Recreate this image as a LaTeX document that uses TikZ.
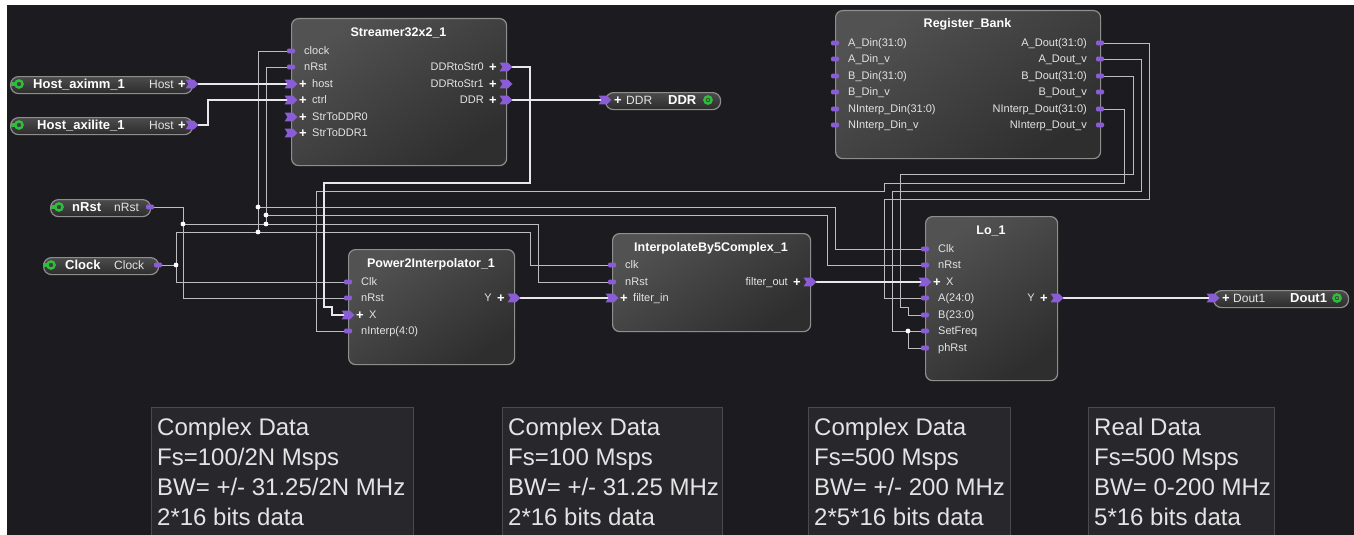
\documentclass[tikz,border=0pt]{standalone}
\usepackage{fontspec}
\setmainfont{Liberation Sans}
\usetikzlibrary{calc}
\definecolor{bgc}{HTML}{1C1C20}
\definecolor{boxtop}{HTML}{525252}
\definecolor{boxbot}{HTML}{2E2E2E}
\definecolor{pilltop}{HTML}{4C4C4C}
\definecolor{pillbot}{HTML}{2C2C2C}
\definecolor{boxline}{HTML}{8E8E8E}
\definecolor{portc}{HTML}{8A5CD6}
\definecolor{wirec}{HTML}{BDBDBD}
\definecolor{busc}{HTML}{E8E8E8}
\definecolor{txtc}{HTML}{E4E4E4}
\definecolor{keyc}{HTML}{2EBE3C}
\definecolor{notebg}{HTML}{28282C}
\definecolor{noteline}{HTML}{4A4A4E}

\tikzset{
  blockbox/.style 2 args={draw=boxline, line width=1.2pt, rounded corners=7pt,
     top color=boxtop, bottom color=boxbot, shading angle=35,
     anchor=north west, inner sep=0pt, minimum width=#1, minimum height=#2},
  pillbox/.style={draw=boxline, line width=1.2pt, rounded corners=8pt,
     top color=pilltop, bottom color=pillbot,
     anchor=north west, inner sep=0pt, minimum width=#1, minimum height=17pt},
  notebox/.style 2 args={draw=noteline, line width=0.8pt, fill=notebg,
     anchor=north west, inner sep=0pt, minimum width=#1, minimum height=#2},
  notetext/.style={font=\fontsize{24}{30}\selectfont, text=txtc, align=left,
     anchor=north west, inner sep=0pt},
  ttl/.style={font=\bfseries\fontsize{12.5}{14}\selectfont, text=white, inner sep=0pt,
     text height=9pt, text depth=0pt},
  lbl/.style={font=\fontsize{11}{12}\selectfont, text=txtc, inner sep=0pt,
     text height=7.9pt, text depth=0pt},
  plus/.style={font=\bfseries\fontsize{13}{13}\selectfont, text=white, inner sep=0pt,
     text height=9pt, text depth=0pt},
  pillb/.style={font=\bfseries\fontsize{13}{14}\selectfont, text=white, inner sep=0pt,
     text height=9.3pt, text depth=0pt},
  pilln/.style={font=\fontsize{12}{13}\selectfont, text=txtc, inner sep=0pt,
     text height=8.6pt, text depth=0pt},
  sig/.style={draw=wirec, line width=0.9pt},
  bus/.style={draw=busc, line width=1.3pt},
}

\newcommand\sigp[1]{\fill[portc,rounded corners=1.2pt] ($(#1)+(-4,-2.3)$) rectangle ($(#1)+(4,2.3)$);}
\newcommand\busp[1]{\fill[portc] ($(#1)+(-6.5,-4.4)$) -- ++(8.5,0) -- ++(4.5,4.4) -- ++(-4.5,4.4) -- ++(-8.5,0) -- ++(3,-4.4) -- cycle;}
\newcommand\inS[2]{\sigp{#1}\node[lbl,anchor=west] (#1-t) at ($(#1)+(13,0)$) {#2};}
\newcommand\inB[2]{\busp{#1}\node[plus] (#1-p) at ($(#1)+(12,0)$) {+};\node[lbl,anchor=west] (#1-t) at ($(#1)+(21,0)$) {#2};}
\newcommand\outS[2]{\sigp{#1}\node[lbl,anchor=east] (#1-t) at ($(#1)+(-13,0)$) {#2};}
\newcommand\outB[2]{\busp{#1}\node[plus] (#1-p) at ($(#1)+(-13,0)$) {+};\node[lbl,anchor=east] (#1-t) at ($(#1)+(-22,0)$) {#2};}
\newcommand\keyL[1]{\fill[keyc] ($(#1)+(-8,-1.6)$) rectangle ($(#1)+(-2,1.6)$);\draw[keyc,line width=2.4pt] (#1) circle (3.6pt);}
\newcommand\keyR[1]{\draw[keyc,line width=2.4pt] (#1) circle (3.6pt);\fill[keyc] (#1) circle (1.3pt);}
\newcommand\jdot[1]{\fill[white] (#1) circle (2.4pt);}

\begin{document}
\begin{tikzpicture}[x=1pt,y=-1pt]
\useasboundingbox (0,0) rectangle (1354,535);
\fill[white] (0,0) rectangle (1354,535);
\fill[bgc] (7,5) rectangle (1354,535);

% ---------- blocks ----------
\node[blockbox={215pt}{147pt}] (strm) at (291,18) {};
\node[ttl] (strm-title) at (398.5,32) {Streamer32x2\_1};
\node[blockbox={265pt}{148pt}] (rb) at (835,10) {};
\node[ttl] (rb-title) at (967.5,23) {Register\_Bank};
\node[blockbox={166pt}{115pt}] (p2i) at (348,249) {};
\node[ttl] (p2i-title) at (431,263) {Power2Interpolator\_1};
\node[blockbox={198pt}{98pt}] (ib5) at (612,233) {};
\node[ttl] (ib5-title) at (711,247) {InterpolateBy5Complex\_1};
\node[blockbox={132pt}{164pt}] (lo) at (925,216) {};
\node[ttl] (lo-title) at (991,230) {Lo\_1};

% ---------- pills ----------
\node[pillbox=182pt] (hm) at (10,76) {};
\node[pillbox=182pt] (hl) at (10,117) {};
\node[pillbox=100pt] (nr) at (50,199) {};
\node[pillbox=115pt] (ck) at (43,257) {};
\node[pillbox=115pt] (ddr) at (605,92) {};
\node[pillbox=135pt] (do) at (1213,290) {};

\coordinate (hm-k) at (19,84); \keyL{hm-k}
\node[pillb,anchor=west] (hm-name) at (33,84) {Host\_aximm\_1};
\node[pilln,anchor=east] (hm-lab) at (174,84) {Host};
\node[plus] (hm-plus) at (182,84) {+};
\coordinate (hl-k) at (19,125); \keyL{hl-k}
\node[pillb,anchor=west] (hl-name) at (37,125) {Host\_axilite\_1};
\node[pilln,anchor=east] (hl-lab) at (174,125) {Host};
\node[plus] (hl-plus) at (182,125) {+};
\coordinate (nr-k) at (59,207); \keyL{nr-k}
\node[pillb,anchor=west] (nr-name) at (72,207) {nRst};
\node[pilln,anchor=west] (nr-lab) at (114,207) {nRst};
\coordinate (ck-k) at (51,265); \keyL{ck-k}
\node[pillb,anchor=west] (ck-name) at (65,265) {Clock};
\node[pilln,anchor=west] (ck-lab) at (114,265) {Clock};
\node[plus] (ddr-plus) at (618,100) {+};
\node[pilln,anchor=west] (ddr-lab) at (626,100) {DDR};
\node[pillb,anchor=west] (ddr-name) at (668,100) {DDR};
\coordinate (ddr-k) at (708,100); \keyR{ddr-k}
\node[plus] (do-plus) at (1226,298) {+};
\node[pilln,anchor=west] (do-lab) at (1233,298) {Dout1};
\node[pillb,anchor=west] (do-name) at (1290,298) {Dout1};
\coordinate (do-k) at (1337,298); \keyR{do-k}

% ---------- notes ----------
\node[notebox={262pt}{140pt}] (note1) at (151,407) {};
\node[notetext] (note1-t) at (157,418) {Complex Data\\Fs=100/2N Msps\\BW= +/- 31.25/2N MHz\\2*16 bits data};
\node[notebox={220pt}{140pt}] (note2) at (502,407) {};
\node[notetext] (note2-t) at (508,418) {Complex Data\\Fs=100 Msps\\BW= +/- 31.25 MHz\\2*16 bits data};
\node[notebox={202pt}{140pt}] (note3) at (808,407) {};
\node[notetext] (note3-t) at (814,418) {Complex Data\\Fs=500 Msps\\BW= +/- 200 MHz\\2*5*16 bits data};
\node[notebox={186pt}{140pt}] (note4) at (1088,407) {};
\node[notetext] (note4-t) at (1094,418) {Real Data\\Fs=500 Msps\\BW= 0-200 MHz\\5*16 bits data};

% ---------- port coordinates ----------
\coordinate (s-clock) at (291,51);  \coordinate (s-nrst) at (291,67);
\coordinate (s-host) at (291,84);   \coordinate (s-ctrl) at (291,100);
\coordinate (s-sd0) at (291,117);   \coordinate (s-sd1) at (291,133);
\coordinate (s-ds0) at (506,67);    \coordinate (s-ds1) at (506,84);
\coordinate (s-ddr) at (506,100);
\coordinate (rb-ad) at (835,43);  \coordinate (rb-adv) at (835,59);
\coordinate (rb-bd) at (835,76);  \coordinate (rb-bdv) at (835,92);
\coordinate (rb-nd) at (835,109); \coordinate (rb-ndv) at (835,125);
\coordinate (rb-aq) at (1100,43);  \coordinate (rb-aqv) at (1100,59);
\coordinate (rb-bq) at (1100,76);  \coordinate (rb-bqv) at (1100,92);
\coordinate (rb-nq) at (1100,109); \coordinate (rb-nqv) at (1100,125);
\coordinate (p-clk) at (348,282); \coordinate (p-nrst) at (348,298);
\coordinate (p-x) at (348,315);   \coordinate (p-ni) at (348,331);
\coordinate (p-y) at (514,298);
\coordinate (i-clk) at (612,265); \coordinate (i-nrst) at (612,282);
\coordinate (i-in) at (612,298);  \coordinate (i-out) at (810,282);
\coordinate (l-clk) at (925,249); \coordinate (l-nrst) at (925,265);
\coordinate (l-x) at (925,282);   \coordinate (l-a) at (925,298);
\coordinate (l-b) at (925,315);   \coordinate (l-sf) at (925,331);
\coordinate (l-ph) at (925,348);  \coordinate (l-y) at (1057,298);
\coordinate (hm-p) at (192,84);   \coordinate (hl-p) at (192,125);
\coordinate (nr-p) at (150,207);  \coordinate (ck-p) at (158,265);
\coordinate (ddr-p) at (605,100); \coordinate (do-p) at (1213,298);
\coordinate (j1) at (183,224); \coordinate (j2) at (266,224);
\coordinate (j3) at (266,215); \coordinate (j4) at (176,265);
\coordinate (j5) at (258,232); \coordinate (j6) at (258,207);
\coordinate (j7) at (908,331);

% ---------- wires ----------
\draw[sig] (nr-p) -| (183,298) -- (p-nrst);
\draw[sig] (j1) -| (538,282) -- (i-nrst);
\draw[sig] (s-nrst) -| (j2);
\draw[sig] (j3) -| (827,265) -- (l-nrst);
\draw[sig] (ck-p) -| (176,282) -- (p-clk);
\draw[sig] (j4) -- (176,232) -| (530,265) -- (i-clk);
\draw[sig] (s-clock) -| (j5);
\draw[sig] (j6) -| (835,249) -- (l-clk);
\draw[sig] (rb-nq) -| (1124,183) -| (884,191) -| (316,331) -- (p-ni);
\draw[sig] (rb-aq) -| (1149,199) -| (884,298) -- (l-a);
\draw[sig] (rb-aqv) -| (1141,191) -| (892,331) -- (l-sf);
\draw[sig] (j7) |- (l-ph);
\draw[sig] (rb-bq) -| (1133,174) -| (900,307) -| (908,315) -- (l-b);
\draw[bus] (hm-p) -- (s-host);
\draw[bus] (hl-p) -- (208,125) |- (s-ctrl);
\draw[bus] (s-ddr) -- (ddr-p);
\draw[bus] (s-ds0) -| (530,183) -| (324,307) -| (332,315) -- (p-x);
\draw[bus] (p-y) -- (i-in);
\draw[bus] (i-out) -- (l-x);
\draw[bus] (l-y) -- (do-p);
\jdot{j1}\jdot{j2}\jdot{j3}\jdot{j4}\jdot{j5}\jdot{j6}\jdot{j7}

% ---------- ports & labels ----------
\inS{s-clock}{clock} \inS{s-nrst}{nRst}
\inB{s-host}{host} \inB{s-ctrl}{ctrl} \inB{s-sd0}{StrToDDR0} \inB{s-sd1}{StrToDDR1}
\outB{s-ds0}{DDRtoStr0} \outB{s-ds1}{DDRtoStr1} \outB{s-ddr}{DDR}

\inS{rb-ad}{A\_Din(31:0)} \inS{rb-adv}{A\_Din\_v} \inS{rb-bd}{B\_Din(31:0)}
\inS{rb-bdv}{B\_Din\_v} \inS{rb-nd}{NInterp\_Din(31:0)} \inS{rb-ndv}{NInterp\_Din\_v}
\outS{rb-aq}{A\_Dout(31:0)} \outS{rb-aqv}{A\_Dout\_v} \outS{rb-bq}{B\_Dout(31:0)}
\outS{rb-bqv}{B\_Dout\_v} \outS{rb-nq}{NInterp\_Dout(31:0)} \outS{rb-nqv}{NInterp\_Dout\_v}

\inS{p-clk}{Clk} \inS{p-nrst}{nRst} \inB{p-x}{X} \inS{p-ni}{nInterp(4:0)}
\outB{p-y}{Y}

\inS{i-clk}{clk} \inS{i-nrst}{nRst} \inB{i-in}{filter\_in}
\outB{i-out}{filter\_out}

\inS{l-clk}{Clk} \inS{l-nrst}{nRst} \inB{l-x}{X} \inS{l-a}{A(24:0)}
\inS{l-b}{B(23:0)} \inS{l-sf}{SetFreq} \inS{l-ph}{phRst}
\outB{l-y}{Y}

\busp{hm-p} \busp{hl-p} \sigp{nr-p} \sigp{ck-p} \busp{ddr-p} \busp{do-p}
\end{tikzpicture}
\end{document}
